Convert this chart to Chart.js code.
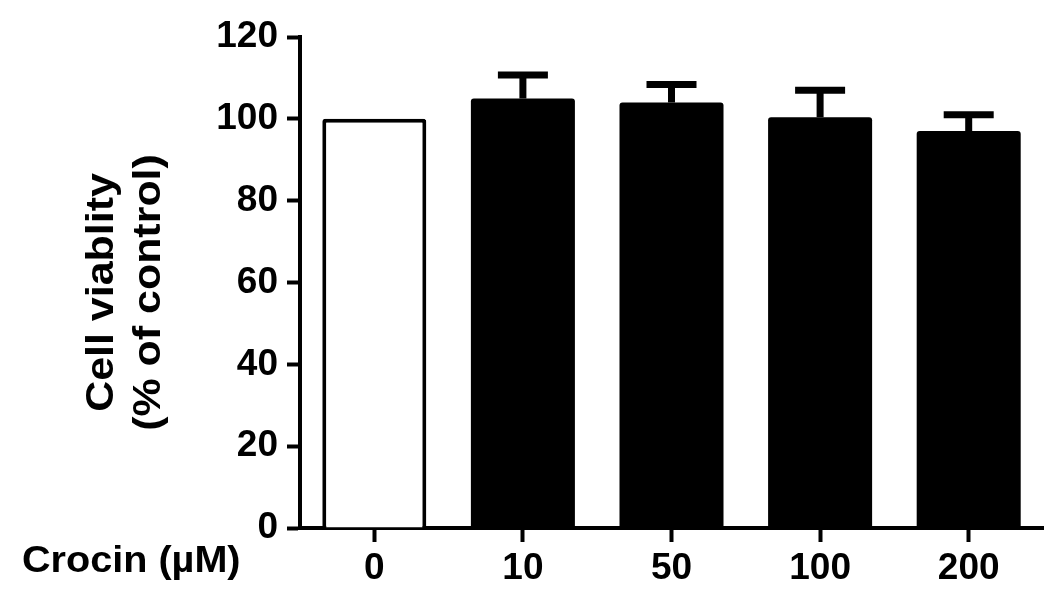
<!DOCTYPE html>
<html>
<head>
<meta charset="utf-8">
<script src="https://cdn.jsdelivr.net/npm/chart.js@4.4.0/dist/chart.umd.min.js"></script>
<style>
  html, body { margin: 0; padding: 0; background: #fff; }
  #wrap { width: 1063px; height: 605px; }
</style>
</head>
<body>
<div id="wrap"><canvas id="myChart" width="1063" height="605"></canvas></div>
<script>
const doses = ['0', '10', '50', '100', '200'];
const viability = [100, 105, 104, 100.4, 97];
const errUp = [0, 5.7, 4.4, 6.6, 4];
const barFill = ['#ffffff', '#000000', '#000000', '#000000', '#000000'];
const yTicks = [0, 20, 40, 60, 80, 100, 120];

const fontName = '"Liberation Sans", Arial, sans-serif';

// upper error bars only, the bar hides the lower half
const errorBars = {
    id: 'errorBars',
    afterDatasetsDraw(chart) {
        const ctx = chart.ctx;
        const y = chart.scales.y;
        const meta = chart.getDatasetMeta(0);
        ctx.save();
        ctx.strokeStyle = '#000';
        ctx.lineWidth = 7;
        ctx.lineCap = 'butt';
        for (let i = 0; i < viability.length; i++) {
            if (!errUp[i]) continue;
            const bar = meta.data[i];
            const top = y.getPixelForValue(viability[i] + errUp[i]);
            ctx.beginPath();
            ctx.moveTo(bar.x, bar.y);
            ctx.lineTo(bar.x, top);
            ctx.moveTo(bar.x - 25, top);
            ctx.lineTo(bar.x + 25, top);
            ctx.stroke();
        }
        ctx.restore();
    }
};

// axis titles, drawn by hand because they are a bit wider than the normal font
const titles = {
    id: 'titles',
    afterDraw(chart) {
        const ctx = chart.ctx;
        const area = chart.chartArea;
        const midY = (area.top + area.bottom) / 2 + 10;
        ctx.save();
        ctx.fillStyle = '#000';
        ctx.font = 'bold 38px ' + fontName;
        ctx.textAlign = 'center';
        ctx.textBaseline = 'alphabetic';
        ctx.translate(113, midY);
        ctx.rotate(-Math.PI / 2);
        ctx.scale(1.13, 1);
        ctx.fillText('Cell viablity', 0, 0);
        ctx.fillText('(% of control)', 0, 47);
        ctx.restore();

        ctx.save();
        ctx.fillStyle = '#000';
        ctx.font = 'bold 37px ' + fontName;
        ctx.textAlign = 'left';
        ctx.textBaseline = 'alphabetic';
        ctx.translate(22, 572);
        ctx.scale(1.07, 1);
        ctx.fillText('Crocin (\u00b5M)', 0, 0);
        ctx.restore();
    }
};

const data = {
    labels: doses,
    datasets: [{
        data: viability,
        backgroundColor: barFill,
        borderColor: '#000',
        borderWidth: [4, 0, 0, 0, 0],
        borderSkipped: 'bottom',
        borderRadius: 3,
        barPercentage: 0.7,
        categoryPercentage: 1.0
    }]
};

const config = {
    type: 'bar',
    data: data,
    options: {
        responsive: false,
        animation: false,
        layout: { padding: { top: 37, right: 20, left: 0, bottom: 0 } },
        plugins: {
            legend: { display: false },
            tooltip: { enabled: false }
        },
        scales: {
            x: {
                offset: true,
                afterFit(scale) { scale.height = 77; },
                grid: {
                    offset: false,
                    drawOnChartArea: false,
                    drawTicks: true,
                    tickLength: 14,
                    tickWidth: 4,
                    color: '#000'
                },
                border: { display: true, width: 4, color: '#000' },
                ticks: {
                    color: '#000',
                    padding: 5,
                    font: { family: fontName, size: 37, weight: 'bold' }
                }
            },
            y: {
                min: 0,
                max: 120,
                afterFit(scale) { scale.width = 300; },
                afterBuildTicks(scale) { scale.ticks = yTicks.map(v => ({ value: v })); },
                grid: {
                    drawOnChartArea: false,
                    drawTicks: true,
                    tickLength: 13,
                    tickWidth: 4,
                    color: '#000'
                },
                border: { display: true, width: 4, color: '#000' },
                ticks: {
                    color: '#000',
                    padding: 9,
                    font: { family: fontName, size: 37, weight: 'bold' }
                }
            }
        }
    },
    plugins: [errorBars, titles]
};

let barCanvas = document.getElementById('myChart');
var myChart = new Chart(barCanvas, config);
</script>
</body>
</html>
